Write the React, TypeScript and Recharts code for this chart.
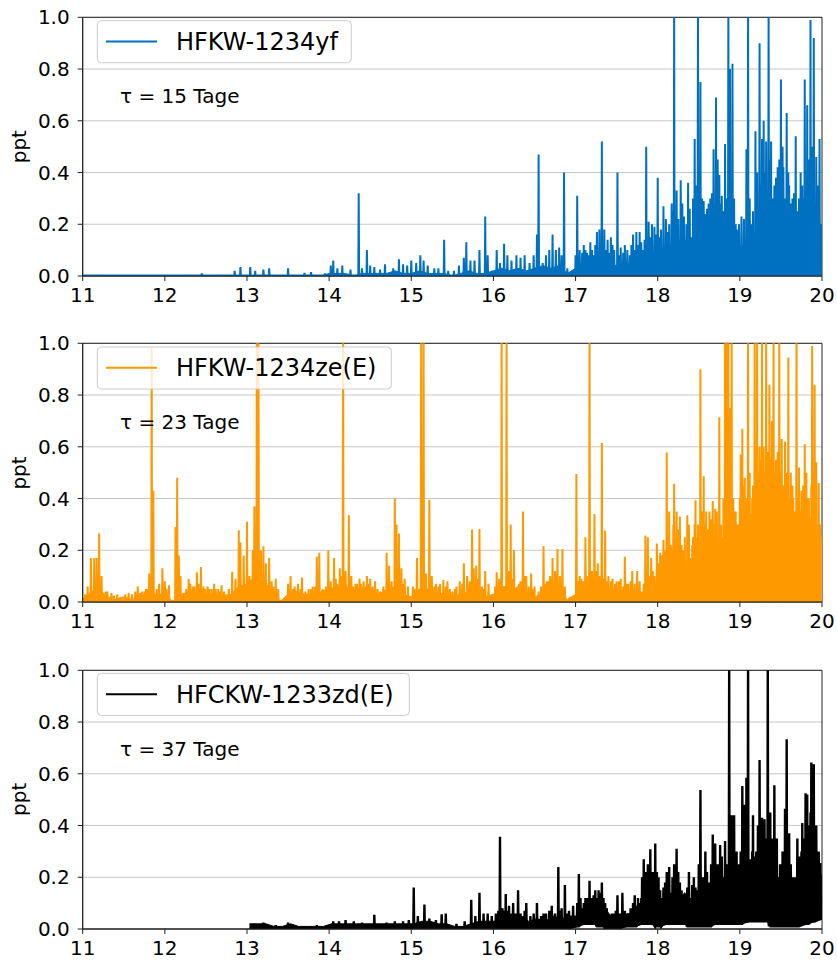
import React from 'react';
import {
  ComposedChart,
  Line,
  Area,
  XAxis,
  YAxis,
  CartesianGrid,
  ReferenceArea,
} from 'recharts';

const FONT = '"DejaVu Sans", sans-serif';

const X_TICKS = [11, 12, 13, 14, 15, 16, 17, 18, 19, 20];
const Y_TICKS = [0, 0.2, 0.4, 0.6, 0.8, 1.0];

// Dense background level (hundredths of ppt), sampled every 0.1 from 11.0 to 20.0
const yfBandTop = [
  0, 0, 0, 0, 0, 0, 0, 0, 0, 0,
  0, 0, 0, 0, 0, 0, 0, 0, 0, 0,
  0, 0, 0, 0, 0, 0, 0, 0, 0, 0,
  1, 1, 1, 0, 1, 1, 1, 1, 2, 1,
  1, 2, 1, 1, 1, 0, 1, 2, 1, 1,
  2, 3, 2, 3, 2, 3, 4, 3, 4, 1,
  3, 6, 4, 7, 5, 4, 6, 3, 5, 7,
  8, 12, 10, 15, 12, 18, 14, 19, 13, 16,
  9, 16, 14, 22, 17, 24, 18, 22, 16, 24, 18,
];

// Individual peaks [x, ppt]
const yfSpikes: [number, number][] = [
  [12.45, 0.01], [12.85, 0.02], [12.92, 0.035], [13.04, 0.035], [13.1, 0.02], [13.2, 0.025],
  [13.27, 0.03], [13.5, 0.03], [13.7, 0.012], [13.78, 0.015], [13.95, 0.01], [14.02, 0.04],
  [14.05, 0.06], [14.1, 0.03], [14.16, 0.04], [14.26, 0.025], [14.36, 0.32], [14.4, 0.03],
  [14.46, 0.1], [14.5, 0.04], [14.55, 0.035], [14.62, 0.025], [14.68, 0.045], [14.78, 0.03],
  [14.85, 0.065], [14.9, 0.045], [14.95, 0.04],
  [15.0, 0.06], [15.06, 0.05], [15.11, 0.08], [15.15, 0.06], [15.2, 0.04], [15.28, 0.03],
  [15.33, 0.03], [15.4, 0.14], [15.45, 0.02], [15.52, 0.02], [15.58, 0.04], [15.64, 0.07],
  [15.67, 0.13], [15.72, 0.06], [15.77, 0.06], [15.83, 0.1], [15.9, 0.23], [15.93, 0.08],
  [15.98, 0.02],
  [16.04, 0.1], [16.08, 0.05], [16.13, 0.125], [16.17, 0.08], [16.22, 0.06], [16.28, 0.08],
  [16.33, 0.07], [16.38, 0.08], [16.44, 0.05], [16.49, 0.08], [16.53, 0.16], [16.55, 0.47],
  [16.6, 0.05], [16.64, 0.08], [16.68, 0.1], [16.72, 0.16], [16.76, 0.1], [16.8, 0.11],
  [16.83, 0.08], [16.86, 0.4], [16.9, 0.03],
  [17.0, 0.08], [17.02, 0.31], [17.05, 0.1], [17.08, 0.09], [17.1, 0.12], [17.12, 0.1],
  [17.14, 0.09], [17.16, 0.08], [17.18, 0.13], [17.2, 0.1], [17.22, 0.08], [17.24, 0.12],
  [17.26, 0.17], [17.29, 0.18], [17.32, 0.52], [17.35, 0.18], [17.37, 0.1], [17.39, 0.14],
  [17.41, 0.09], [17.43, 0.15], [17.45, 0.12], [17.47, 0.1], [17.51, 0.4], [17.53, 0.08],
  [17.55, 0.11], [17.58, 0.09], [17.6, 0.12], [17.63, 0.1], [17.66, 0.08], [17.68, 0.12],
  [17.7, 0.16], [17.72, 0.1], [17.74, 0.17], [17.76, 0.12], [17.78, 0.17], [17.8, 0.13],
  [17.82, 0.1], [17.84, 0.14], [17.86, 0.5], [17.89, 0.21], [17.91, 0.15], [17.93, 0.2],
  [17.96, 0.19], [17.98, 0.16],
  [18.0, 0.38], [18.02, 0.15], [18.04, 0.18], [18.07, 0.27], [18.1, 0.22], [18.12, 0.17],
  [18.14, 0.2], [18.17, 0.28], [18.19, 0.25], [18.2, 1.05], [18.23, 0.33], [18.25, 0.22],
  [18.28, 0.37], [18.3, 0.28], [18.32, 0.23], [18.35, 0.2], [18.37, 0.36], [18.39, 0.26],
  [18.41, 0.15], [18.43, 0.3], [18.45, 0.53], [18.47, 0.35], [18.49, 1.05], [18.52, 0.75],
  [18.54, 0.3], [18.56, 0.29], [18.58, 0.24], [18.6, 0.26], [18.62, 0.28], [18.64, 0.3],
  [18.66, 0.32], [18.68, 0.49], [18.71, 0.69], [18.73, 0.45], [18.75, 0.39], [18.77, 0.28],
  [18.78, 0.31], [18.8, 0.25], [18.82, 0.51], [18.84, 0.3], [18.86, 1.05], [18.88, 0.8],
  [18.91, 0.82], [18.93, 0.3], [18.95, 0.2], [18.97, 0.18], [18.99, 0.2], [19.0, 0.12],
  [19.02, 0.23], [19.05, 0.22],
  [19.08, 0.49], [19.1, 1.05], [19.12, 0.3], [19.14, 0.2], [19.16, 0.25], [19.19, 0.56],
  [19.21, 0.4], [19.24, 0.9], [19.26, 0.35], [19.27, 0.53], [19.29, 0.6], [19.31, 0.4],
  [19.32, 0.52], [19.34, 0.3], [19.35, 1.05], [19.37, 0.45], [19.38, 0.52], [19.4, 0.3],
  [19.42, 0.35], [19.44, 0.38], [19.46, 0.42], [19.48, 0.45], [19.5, 0.76], [19.52, 0.5],
  [19.53, 0.42], [19.55, 0.3], [19.57, 0.63], [19.59, 0.4], [19.6, 0.35], [19.62, 0.28],
  [19.64, 0.3], [19.66, 0.32], [19.68, 0.54], [19.7, 0.25], [19.72, 0.3], [19.74, 0.4],
  [19.76, 0.35], [19.78, 0.3], [19.79, 0.76], [19.82, 0.66], [19.84, 0.45], [19.86, 0.99],
  [19.88, 0.5], [19.9, 0.92], [19.93, 0.46], [19.95, 0.35], [19.97, 0.53], [19.99, 0.2],
];

const zeBandTop = [
  1, 4, 5, 2, 1, 2, 1, 2, 3, 3,
  3, 0, 3, 4, 4, 3, 3, 2, 3, 6,
  7, 10, 8, 5, 0, 3, 4, 3, 3, 4,
  5, 6, 6, 5, 5, 5, 3, 5, 6, 3,
  2, 5, 5, 4, 3, 2, 3, 4, 4, 2,
  3, 6, 6, 5, 3, 2, 3, 4, 4, 1,
  3, 6, 4, 6, 3, 5, 3, 4, 3, 7,
  6, 12, 9, 15, 10, 16, 14, 20, 15, 24,
  18, 26, 22, 34, 26, 32, 24, 30, 22, 28, 18,
];

const zeSpikes: [number, number][] = [
  [11.03, 0.03], [11.06, 0.06], [11.1, 0.17], [11.14, 0.17], [11.17, 0.17], [11.2, 0.265],
  [11.23, 0.1], [11.28, 0.04], [11.3, 0.04], [11.35, 0.035], [11.38, 0.025], [11.42, 0.03],
  [11.46, 0.02], [11.52, 0.03], [11.56, 0.035], [11.6, 0.03], [11.64, 0.04], [11.67, 0.06],
  [11.7, 0.035], [11.72, 0.04], [11.75, 0.04], [11.77, 0.05], [11.79, 0.05], [11.81, 0.11],
  [11.84, 0.98], [11.86, 0.43], [11.9, 0.05], [11.93, 0.07], [11.97, 0.13], [12.0, 0.08],
  [12.02, 0.05], [12.05, 0.065], [12.13, 0.29], [12.15, 0.48], [12.17, 0.18], [12.19, 0.1],
  [12.23, 0.03], [12.26, 0.05], [12.29, 0.09], [12.31, 0.07], [12.34, 0.06], [12.36, 0.06],
  [12.39, 0.115], [12.41, 0.07], [12.44, 0.135], [12.47, 0.06], [12.49, 0.05], [12.52, 0.06],
  [12.54, 0.05], [12.57, 0.05], [12.6, 0.07], [12.62, 0.05], [12.65, 0.05], [12.67, 0.04],
  [12.69, 0.065], [12.72, 0.04], [12.75, 0.03], [12.78, 0.05], [12.82, 0.117], [12.86, 0.09],
  [12.9, 0.277], [12.92, 0.23], [12.96, 0.18], [13.0, 0.31], [13.03, 0.1], [13.07, 0.2],
  [13.09, 0.37], [13.12, 1.05], [13.14, 1.05], [13.17, 0.2], [13.2, 0.215], [13.23, 0.15],
  [13.27, 0.17], [13.3, 0.08], [13.32, 0.06], [13.35, 0.09], [13.38, 0.05], [13.5, 0.07],
  [13.53, 0.1], [13.56, 0.05], [13.58, 0.06], [13.62, 0.07], [13.65, 0.05], [13.67, 0.095],
  [13.71, 0.04], [13.75, 0.05], [13.78, 0.05], [13.8, 0.06], [13.83, 0.06], [13.85, 0.175],
  [13.88, 0.19], [13.92, 0.05], [13.96, 0.06], [13.99, 0.2], [14.02, 0.08], [14.06, 0.17],
  [14.08, 0.09], [14.1, 0.07], [14.13, 0.13], [14.15, 0.1], [14.17, 1.05], [14.2, 0.12],
  [14.24, 0.335], [14.27, 0.1], [14.29, 0.06], [14.32, 0.07], [14.34, 0.07], [14.37, 0.09],
  [14.39, 0.07], [14.42, 0.08], [14.44, 0.06], [14.46, 0.1], [14.48, 0.07], [14.5, 0.09],
  [14.53, 0.06], [14.56, 0.08], [14.59, 0.05], [14.62, 0.04], [14.66, 0.06], [14.7, 0.19],
  [14.73, 0.14], [14.76, 0.08], [14.8, 0.4], [14.82, 0.3], [14.85, 0.265], [14.88, 0.13],
  [14.9, 0.07], [14.92, 0.09], [14.96, 0.06],
  [15.02, 0.06], [15.04, 0.05], [15.07, 0.17], [15.12, 1.05], [15.15, 1.05], [15.18, 0.11],
  [15.22, 0.395], [15.25, 0.1], [15.28, 0.06], [15.3, 0.07], [15.33, 0.06], [15.35, 0.07],
  [15.39, 0.085], [15.42, 0.06], [15.44, 0.08], [15.47, 0.05], [15.5, 0.04], [15.53, 0.05],
  [15.55, 0.06], [15.59, 0.08], [15.62, 0.07], [15.64, 0.15], [15.68, 0.1], [15.71, 0.08],
  [15.74, 0.28], [15.76, 0.13], [15.79, 0.14], [15.81, 0.09], [15.83, 0.282], [15.86, 0.06],
  [15.88, 0.05], [15.9, 0.12], [15.94, 0.07], [15.98, 0.02],
  [16.02, 0.06], [16.04, 0.115], [16.07, 0.09], [16.1, 1.05], [16.16, 1.05], [16.19, 0.12],
  [16.21, 0.3], [16.23, 0.09], [16.25, 0.2], [16.29, 0.06], [16.31, 0.07], [16.33, 0.08],
  [16.36, 0.35], [16.38, 0.1], [16.4, 0.1], [16.43, 0.06], [16.46, 0.11], [16.48, 0.05],
  [16.5, 0.06], [16.55, 0.04], [16.58, 0.06], [16.61, 0.215], [16.63, 0.07], [16.65, 0.08],
  [16.67, 0.08], [16.69, 0.1], [16.7, 0.09], [16.72, 0.17], [16.75, 0.12], [16.77, 0.1],
  [16.78, 0.205], [16.81, 0.1], [16.83, 0.08], [16.84, 0.205], [16.87, 0.06], [16.93, 0.02],
  [17.01, 0.495], [17.03, 0.08], [17.05, 0.1], [17.07, 0.09], [17.09, 0.08], [17.12, 0.25],
  [17.14, 0.1], [17.17, 1.05], [17.19, 0.12], [17.2, 0.12], [17.23, 0.34], [17.25, 0.12],
  [17.27, 0.15], [17.29, 0.1], [17.32, 0.615], [17.34, 0.09], [17.36, 0.276], [17.38, 0.08],
  [17.4, 0.1], [17.43, 0.08], [17.45, 0.09], [17.48, 0.07], [17.5, 0.08], [17.53, 0.08],
  [17.55, 0.09], [17.58, 0.06], [17.6, 0.175], [17.62, 0.07], [17.64, 0.07], [17.67, 0.08],
  [17.69, 0.12], [17.72, 0.07], [17.75, 0.12], [17.78, 0.08], [17.8, 0.04], [17.83, 0.07],
  [17.85, 0.257], [17.88, 0.25], [17.9, 0.1], [17.92, 0.17], [17.94, 0.12], [17.96, 0.1],
  [17.99, 0.226],
  [18.01, 0.15], [18.03, 0.19], [18.05, 0.18], [18.07, 0.24], [18.09, 0.2], [18.11, 0.578],
  [18.13, 0.25], [18.14, 0.35], [18.16, 0.22], [18.17, 0.21], [18.19, 0.3], [18.2, 0.457],
  [18.22, 0.25], [18.23, 0.35], [18.25, 0.28], [18.27, 0.33], [18.29, 0.22], [18.31, 0.2],
  [18.33, 0.25], [18.36, 0.335], [18.38, 0.3], [18.4, 0.17], [18.42, 0.22], [18.43, 0.25],
  [18.45, 0.3], [18.46, 0.393], [18.48, 0.25], [18.49, 0.3], [18.52, 0.9], [18.54, 0.35],
  [18.56, 0.486], [18.58, 0.3], [18.59, 0.35], [18.61, 0.28], [18.63, 0.35], [18.65, 0.32],
  [18.67, 0.39], [18.69, 0.3], [18.7, 0.36], [18.72, 0.35], [18.75, 0.714], [18.77, 0.3],
  [18.78, 0.25], [18.8, 0.4], [18.82, 1.05], [18.84, 1.05], [18.86, 1.05], [18.88, 0.75],
  [18.9, 1.05], [18.92, 0.4], [18.93, 0.35], [18.95, 0.35], [18.97, 0.3], [18.99, 0.3],
  [19.0, 0.4], [19.01, 0.57], [19.03, 0.67], [19.05, 0.45], [19.06, 0.48], [19.08, 0.4],
  [19.1, 1.05], [19.12, 0.5], [19.13, 0.34], [19.15, 0.4], [19.16, 0.45], [19.18, 1.05],
  [19.2, 0.6], [19.21, 1.05], [19.23, 0.5], [19.24, 0.6], [19.26, 0.55], [19.27, 1.05],
  [19.29, 0.6], [19.3, 0.5], [19.32, 1.05], [19.33, 0.5], [19.34, 0.58], [19.36, 0.84],
  [19.38, 0.55], [19.39, 0.7], [19.41, 1.05], [19.43, 0.5], [19.44, 0.55], [19.46, 0.58],
  [19.47, 0.45], [19.48, 1.05], [19.5, 0.5], [19.51, 0.63], [19.53, 0.45], [19.55, 0.62],
  [19.57, 0.5], [19.59, 0.945], [19.6, 0.4], [19.62, 0.5], [19.64, 0.45], [19.65, 0.4],
  [19.67, 0.35], [19.69, 1.05], [19.71, 0.4], [19.72, 0.52], [19.74, 0.35], [19.75, 0.43],
  [19.77, 0.45], [19.79, 0.61], [19.81, 0.5], [19.82, 0.4], [19.84, 0.4], [19.85, 0.32],
  [19.87, 0.45], [19.88, 0.99], [19.9, 0.5], [19.91, 0.84], [19.93, 0.54], [19.95, 0.3],
  [19.96, 0.46], [19.98, 0.3], [19.99, 0.25],
];

// HFCKW-1233zd(E): record starts in 13; band sampled every 0.1 from 13.0 to 20.0
const zdBandFloor = [
  0, 0, 0, 0, 0, 0, 0, 0, 0, 0,
  0, 0, 0, 0, 0, 0, 0, 0, 0, 0,
  0, 0, 0, 0, 0, 0, 0, 0, 0, 0,
  0, 0, 0, 0, 0, 0, 0, 0, 0, 0,
  1, 2, 2, 1, 0, 0, 1, 1, 2, 2,
  1, 2, 2, 2, 1, 1, 1, 2, 2, 2,
  2, 3, 3, 3, 1, 1, 1, 1, 2, 3, 4,
];

const zdBandTop = [
  2, 2, 2, 1, 1, 2, 1, 1, 1, 1,
  2, 2, 2, 2, 2, 2, 2, 2, 2, 2,
  2, 3, 3, 2, 2, 1, 1, 2, 3, 3,
  3, 5, 4, 5, 3, 4, 3, 5, 4, 5,
  5, 8, 6, 9, 5, 4, 6, 5, 11, 14,
  9, 13, 11, 14, 8, 11, 15, 12, 16, 14,
  14, 20, 16, 22, 15, 18, 14, 17, 22, 25, 18,
];

const zdSpikes: [number, number][] = [
  [13.1, 0.02], [13.2, 0.025], [13.35, 0.015], [13.5, 0.025], [13.7, 0.01], [13.85, 0.015],
  [14.05, 0.03], [14.12, 0.03], [14.2, 0.035], [14.3, 0.03], [14.4, 0.025], [14.55, 0.055],
  [14.7, 0.025], [14.8, 0.03], [14.9, 0.03], [14.97, 0.035],
  [15.03, 0.16], [15.08, 0.05], [15.16, 0.095], [15.22, 0.04], [15.3, 0.035], [15.37, 0.057],
  [15.42, 0.06], [15.55, 0.02], [15.65, 0.03], [15.73, 0.113], [15.78, 0.05], [15.83, 0.14],
  [15.88, 0.06], [15.93, 0.06], [15.98, 0.05],
  [16.03, 0.06], [16.06, 0.07], [16.08, 0.357], [16.11, 0.08], [16.13, 0.07], [16.15, 0.135],
  [16.17, 0.07], [16.19, 0.09], [16.21, 0.06], [16.24, 0.1], [16.27, 0.06], [16.3, 0.15],
  [16.33, 0.06], [16.35, 0.05], [16.38, 0.07], [16.4, 0.1], [16.45, 0.05], [16.49, 0.06],
  [16.53, 0.1], [16.58, 0.05], [16.61, 0.06], [16.64, 0.06], [16.68, 0.07], [16.71, 0.09],
  [16.75, 0.06], [16.79, 0.24], [16.81, 0.07], [16.83, 0.08], [16.87, 0.17], [16.9, 0.06],
  [16.92, 0.07], [16.97, 0.09],
  [17.02, 0.1], [17.04, 0.213], [17.06, 0.12], [17.08, 0.08], [17.1, 0.1], [17.12, 0.12],
  [17.15, 0.12], [17.17, 0.186], [17.2, 0.12], [17.22, 0.13], [17.24, 0.15], [17.26, 0.12],
  [17.28, 0.15], [17.3, 0.14], [17.32, 0.18], [17.34, 0.12], [17.36, 0.1], [17.38, 0.08],
  [17.41, 0.05], [17.44, 0.06], [17.46, 0.06], [17.49, 0.07], [17.51, 0.13], [17.54, 0.06],
  [17.57, 0.14], [17.6, 0.07], [17.62, 0.05], [17.65, 0.06], [17.67, 0.08], [17.7, 0.1],
  [17.72, 0.13], [17.74, 0.09], [17.76, 0.12], [17.78, 0.1], [17.8, 0.12], [17.81, 0.2],
  [17.83, 0.27], [17.86, 0.22], [17.88, 0.25], [17.91, 0.308], [17.93, 0.2], [17.94, 0.22],
  [17.97, 0.33], [17.99, 0.22],
  [18.01, 0.2], [18.03, 0.15], [18.04, 0.12], [18.07, 0.16], [18.09, 0.18], [18.11, 0.22],
  [18.14, 0.24], [18.16, 0.14], [18.18, 0.2], [18.2, 0.25], [18.23, 0.31], [18.25, 0.22],
  [18.27, 0.18], [18.29, 0.15], [18.31, 0.12], [18.34, 0.1], [18.36, 0.16], [18.38, 0.22],
  [18.4, 0.12], [18.42, 0.17], [18.44, 0.2], [18.46, 0.16], [18.48, 0.15], [18.5, 0.25],
  [18.52, 0.537], [18.55, 0.2], [18.58, 0.3], [18.6, 0.22], [18.62, 0.18], [18.65, 0.25],
  [18.67, 0.365], [18.69, 0.28], [18.7, 0.33], [18.72, 0.2], [18.73, 0.25], [18.76, 0.325],
  [18.78, 0.28], [18.79, 0.2], [18.82, 0.34], [18.84, 0.25], [18.87, 1.05], [18.88, 0.3],
  [18.9, 0.44], [18.93, 0.44], [18.95, 0.26], [18.96, 0.3], [18.99, 0.25],
  [19.01, 0.3], [19.03, 0.553], [19.05, 0.35], [19.06, 0.48], [19.08, 0.585], [19.1, 1.05],
  [19.12, 0.25], [19.13, 0.27], [19.15, 0.3], [19.16, 0.44], [19.18, 0.28], [19.2, 0.3],
  [19.22, 0.4], [19.24, 0.653], [19.26, 0.35], [19.27, 0.43], [19.29, 0.3], [19.3, 0.424],
  [19.32, 0.35], [19.34, 1.05], [19.36, 0.3], [19.37, 0.45], [19.39, 0.35], [19.42, 0.556],
  [19.44, 0.28], [19.45, 0.35], [19.47, 0.2], [19.49, 0.25], [19.51, 0.25], [19.52, 0.3],
  [19.54, 0.3], [19.55, 0.465], [19.57, 0.733], [19.59, 0.3], [19.6, 0.37], [19.62, 0.25],
  [19.64, 0.2], [19.67, 0.2], [19.7, 0.35], [19.72, 0.28], [19.73, 0.25], [19.75, 0.3],
  [19.76, 0.41], [19.78, 0.35], [19.8, 0.525], [19.82, 0.52], [19.84, 0.4], [19.86, 0.45],
  [19.87, 0.644], [19.89, 0.42], [19.9, 0.637], [19.92, 0.35], [19.93, 0.4], [19.95, 0.3],
  [19.96, 0.3], [19.98, 0.255],
];

const SPIKE_HALF = 0.005;

type Row = { x: number; band?: [number, number]; y?: number };

function bandRows(start: number, tops: number[], floors?: number[]): Row[] {
  return tops.map((t, i) => ({
    x: Math.round((start + i * 0.1) * 100) / 100,
    band: [(floors ? floors[i] : 0) / 100, t / 100],
  }));
}

function spikeRows(
  spikes: [number, number][],
  start: number,
  end: number,
  baseAt: (x: number) => number,
): Row[] {
  const rows: Row[] = [{ x: start, y: baseAt(start) }];
  const sorted = [...spikes].sort((a, b) => a[0] - b[0]);
  for (const [sx, sy] of sorted) {
    const b = baseAt(sx);
    rows.push({ x: sx - SPIKE_HALF, y: b }, { x: sx, y: sy }, { x: sx + SPIKE_HALF, y: b });
  }
  rows.push({ x: end, y: baseAt(end) });
  return rows;
}

const zdFloorAt = (x: number) => {
  const i = Math.min(zdBandFloor.length - 1, Math.max(0, Math.round((x - 13) * 10)));
  return zdBandFloor[i] / 100;
};

const panels = [
  {
    name: 'HFKW-1234yf',
    tau: 'τ = 15 Tage',
    color: '#0070c0',
    width: 2,
    legendW: 254,
    band: bandRows(11, yfBandTop),
    line: spikeRows(yfSpikes, 11, 20, () => 0.002),
  },
  {
    name: 'HFKW-1234ze(E)',
    tau: 'τ = 23 Tage',
    color: '#ff9900',
    width: 2,
    legendW: 294,
    band: bandRows(11, zeBandTop),
    line: spikeRows(zeSpikes, 11, 20, () => 0.005),
  },
  {
    name: 'HFCKW-1233zd(E)',
    tau: 'τ = 37 Tage',
    color: '#000000',
    width: 2.4,
    legendW: 312,
    band: bandRows(13.03, zdBandTop, zdBandFloor),
    line: spikeRows(zdSpikes, 13.03, 20, zdFloorAt),
  },
];

const PANEL_TOPS = [0, 326.3, 652.7];
const tickStyle = { fontSize: 20, fill: '#000', fontFamily: FONT };

function Panel({ p }: { p: (typeof panels)[number] }) {
  return (
    <ComposedChart
      width={837}
      height={310}
      data={p.band}
      margin={{ top: 17.3, right: 15, bottom: 4, left: 22.7 }}
    >
      <CartesianGrid vertical={false} stroke="#c8c8c8" strokeWidth={1} />
      <XAxis
        dataKey="x"
        type="number"
        domain={[11, 20]}
        ticks={X_TICKS}
        interval={0}
        allowDataOverflow
        stroke="#222"
        tickSize={5}
        tickMargin={7}
        height={30}
        tick={tickStyle}
      />
      <YAxis
        type="number"
        domain={[0, 1]}
        ticks={Y_TICKS}
        interval={0}
        allowDataOverflow
        stroke="#222"
        tickSize={5}
        tickMargin={8}
        width={60}
        tick={tickStyle}
        tickFormatter={(v: number) => v.toFixed(1)}
      />
      <Area
        dataKey="band"
        type="linear"
        stroke={p.color}
        strokeWidth={1}
        fill={p.color}
        fillOpacity={1}
        dot={false}
        activeDot={false}
        isAnimationActive={false}
      />
      <Line
        data={p.line}
        dataKey="y"
        type="linear"
        stroke={p.color}
        strokeWidth={p.width}
        strokeLinejoin="miter"
        dot={false}
        activeDot={false}
        isAnimationActive={false}
      />
      <ReferenceArea
        x1={11}
        x2={20}
        y1={0}
        y2={1}
        fill="none"
        stroke="#222"
        strokeWidth={1}
        ifOverflow="visible"
      />
    </ComposedChart>
  );
}

export default function App() {
  return (
    <div
      style={{
        position: 'absolute',
        left: 0,
        top: 0,
        width: 837,
        height: 961,
        background: '#fff',
        fontFamily: FONT,
      }}
    >
      {panels.map((p, i) => (
        <div key={p.name} style={{ position: 'absolute', left: 0, top: PANEL_TOPS[i] }}>
          <Panel p={p} />
        </div>
      ))}
      <svg
        width={837}
        height={961}
        style={{ position: 'absolute', left: 0, top: 0, pointerEvents: 'none' }}
      >
        {panels.map((p, i) => {
          const off = PANEL_TOPS[i];
          return (
            <g key={p.name} fontFamily={FONT}>
              <rect
                x={97.3}
                y={off + 20.7}
                width={p.legendW}
                height={42}
                rx={4}
                fill="#ffffff"
                fillOpacity={0.8}
                stroke="#cccccc"
                strokeWidth={1}
              />
              <line x1={106} x2={157} y1={off + 41.5} y2={off + 41.5} stroke={p.color} strokeWidth={2} />
              <text x={176} y={off + 50} fontSize={24} fill="#000">
                {p.name}
              </text>
              <text x={120} y={off + 103} fontSize={20} fill="#000">
                {p.tau}
              </text>
              <text
                transform={`translate(26, ${off + 146.7}) rotate(-90)`}
                textAnchor="middle"
                fontSize={20}
                fill="#000"
              >
                ppt
              </text>
            </g>
          );
        })}
      </svg>
    </div>
  );
}
